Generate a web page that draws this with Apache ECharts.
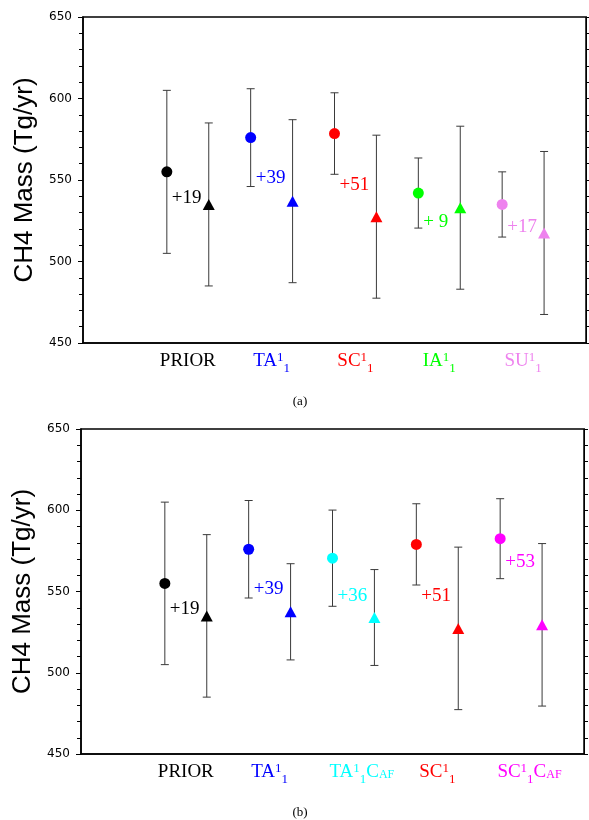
<!DOCTYPE html>
<html>
<head>
<meta charset="utf-8">
<script src="https://cdn.jsdelivr.net/npm/echarts@6/dist/echarts.min.js"></script>
<style>
html,body{margin:0;padding:0;background:#fff;}
#chart{width:589px;height:820px;}
</style>
</head>
<body>
<div id="chart"></div>
<script>
// ---------- Panel (a) data ----------
var labelsA = ['PRIOR', 'TA^1_1', 'SC^1_1', 'IA^1_1', 'SU^1_1'];
var colorsA = ['#000000', '#0000ff', '#ff0000', '#00ff00', '#ee82ee'];
var circleA = [555, 576, 578.5, 542, 535];
var circleErrA = [50, 30, 25, 21.5, 20];
var triangleA = [535, 537, 527.5, 533, 517.5];
var triangleErrA = [50, 50, 50, 50, 50];
var diffA = ['+19', '+39', '+51', '+ 9', '+17'];
var diffYA = [539, 551, 547, 524, 521];

// ---------- Panel (b) data ----------
var labelsB = ['PRIOR', 'TA^1_1', 'TA^1_1C_AF', 'SC^1_1', 'SC^1_1C_AF'];
var colorsB = ['#000000', '#0000ff', '#00ffff', '#ff0000', '#ff00ff'];
var circleB = [555, 576, 570.5, 579, 582.5];
var circleErrB = [50, 30, 29.6, 25, 24.6];
var triangleB = [535, 537.5, 534, 527.3, 529.5];
var triangleErrB = [50, 29.6, 29.5, 50, 50];
var diffB = ['+19', '+39', '+36', '+51', '+53'];
var diffYB = [539.5, 551.4, 547, 547.5, 568];

var yTicks = [450, 500, 550, 600, 650];

var SERIF = '"Liberation Serif", "Times New Roman", serif';

function labelX(i, markup) {
  // labels centred between the two markers; labels with C_AF suffix shift right a little
  return 2.5 + 2 * i + (markup.indexOf('C_AF') >= 0 ? 0.2 : 0);
}

function toRich(markup, i) {
  var out = '';
  var re = /\^(\d+)|_(\d+|[A-Za-z]+)|([^\^_]+)/g, m;
  while ((m = re.exec(markup)) !== null) {
    if (m[1]) out += '{u' + i + '|' + m[1] + '}';
    else if (m[2]) {
      if (/^\d+$/.test(m[2])) out += '{d' + i + '|' + m[2] + '}';
      else out += '{s' + i + '|' + m[2] + '}';
    } else out += '{n' + i + '|' + m[3] + '}';
  }
  return out;
}

function buildRich(colors) {
  var rich = {};
  colors.forEach(function (c, i) {
    rich['n' + i] = {color: c, fontSize: 19, fontFamily: SERIF, lineHeight: 30};
    rich['u' + i] = {color: c, fontSize: 13, fontFamily: SERIF, lineHeight: 30, padding: [0, 0, 7, 0]};
    rich['d' + i] = {color: c, fontSize: 13, fontFamily: SERIF, lineHeight: 30, padding: [15, 0, 0, 0]};
    rich['s' + i] = {color: c, fontSize: 12, fontFamily: SERIF, lineHeight: 30, padding: [5, 0, 0, 0]};
  });
  return rich;
}

function xAxisFor(gridIndex, labels, colors) {
  return {
    gridIndex: gridIndex, type: 'value', min: 0, max: 12, interval: 0.1,
    axisLine: {show: true, lineStyle: {color: '#000', width: 1.5}},
    axisTick: {show: false}, splitLine: {show: false},
    axisLabel: {
      margin: 3, lineHeight: 30,
      formatter: function (v) {
        var k = Math.round(v * 10);
        for (var i = 0; i < labels.length; i++) {
          if (Math.round(labelX(i, labels[i]) * 10) === k) return toRich(labels[i], i);
        }
        return '';
      },
      rich: buildRich(colors)
    }
  };
}

function yAxisFor(gridIndex, side) {
  var left = side === 'left';
  return {
    gridIndex: gridIndex, type: 'value', position: side,
    min: yTicks[0], max: yTicks[yTicks.length - 1], interval: yTicks[1] - yTicks[0],
    name: left ? 'CH4 Mass (Tg/yr)' : '', nameLocation: 'middle', nameGap: 45,
    nameTextStyle: {fontSize: 26, fontFamily: '"Liberation Sans", Arial, sans-serif', color: '#000'},
    axisLine: {show: true, lineStyle: {color: '#000', width: left ? 1.5 : 1}},
    axisTick: {show: true, inside: false, length: left ? 5 : 4, lineStyle: {color: '#000'}},
    minorTick: {show: true, splitNumber: 5, length: 4, lineStyle: {color: '#000'}},
    splitLine: {show: false}, minorSplitLine: {show: false},
    axisLabel: {show: left, margin: 11, fontSize: 12, fontFamily: '"DejaVu Sans", sans-serif', color: '#000'}
  };
}

function errorBarSeries(xi, yi, circ, circErr, tri, triErr) {
  var data = [];
  for (var i = 0; i < circ.length; i++) {
    data.push([2 + 2 * i, circ[i] - circErr[i], circ[i] + circErr[i]]);
    data.push([3 + 2 * i, tri[i] - triErr[i], tri[i] + triErr[i]]);
  }
  return {
    type: 'custom', xAxisIndex: xi, yAxisIndex: yi, data: data, silent: true,
    encode: {x: 0, y: [1, 2]},
    renderItem: function (params, api) {
      var x = api.value(0);
      var lo = api.coord([x, api.value(1)]);
      var hi = api.coord([x, api.value(2)]);
      var st = {stroke: '#3a3a3a', lineWidth: 1};
      return {type: 'group', children: [
        {type: 'line', shape: {x1: lo[0], y1: lo[1], x2: hi[0], y2: hi[1]}, style: st},
        {type: 'line', shape: {x1: hi[0] - 4, y1: hi[1], x2: hi[0] + 4, y2: hi[1]}, style: st},
        {type: 'line', shape: {x1: lo[0] - 4, y1: lo[1], x2: lo[0] + 4, y2: lo[1]}, style: st}
      ]};
    }
  };
}

function markerSeries(xi, yi, vals, colors, offset, symbol, size) {
  return {
    type: 'scatter', xAxisIndex: xi, yAxisIndex: yi, symbol: symbol, symbolSize: size,
    z: 5,
    data: vals.map(function (v, i) {
      return {value: [offset + 2 * i, v], itemStyle: {color: colors[i], opacity: 1}};
    })
  };
}

function diffSeries(xi, yi, texts, ys, colors) {
  return {
    type: 'custom', xAxisIndex: xi, yAxisIndex: yi, silent: true, z: 6,
    data: ys.map(function (y, i) { return [2.12 + 2 * i, y]; }),
    renderItem: function (params, api) {
      var p = api.coord([api.value(0), api.value(1)]);
      return {type: 'text', x: p[0], y: p[1], style: {
        text: texts[params.dataIndex], fill: colors[params.dataIndex],
        fontSize: 19, fontFamily: SERIF, align: 'left', verticalAlign: 'middle'
      }};
    }
  };
}

var chart = echarts.init(document.getElementById('chart'));
chart.setOption({
  animation: false,
  backgroundColor: '#fff',
  grid: [
    {left: 83, top: 17, width: 503, height: 326, show: true, borderColor: '#000', borderWidth: 1.5, backgroundColor: 'transparent'},
    {left: 81, top: 429, width: 503, height: 325, show: true, borderColor: '#000', borderWidth: 1.5, backgroundColor: 'transparent'}
  ],
  xAxis: [xAxisFor(0, labelsA, colorsA), xAxisFor(1, labelsB, colorsB)],
  yAxis: [yAxisFor(0, 'left'), yAxisFor(0, 'right'), yAxisFor(1, 'left'), yAxisFor(1, 'right')],
  graphic: [
    {type: 'text', x: 300, y: 402, style: {text: '(a)', fontSize: 13, fontFamily: SERIF, fill: '#000', align: 'center', verticalAlign: 'middle'}},
    {type: 'text', x: 300, y: 813, style: {text: '(b)', fontSize: 13, fontFamily: SERIF, fill: '#000', align: 'center', verticalAlign: 'middle'}}
  ],
  series: [
    errorBarSeries(0, 0, circleA, circleErrA, triangleA, triangleErrA),
    markerSeries(0, 0, circleA, colorsA, 2, 'circle', 11),
    markerSeries(0, 0, triangleA, colorsA, 3, 'triangle', [12, 11]),
    diffSeries(0, 0, diffA, diffYA, colorsA),
    errorBarSeries(1, 2, circleB, circleErrB, triangleB, triangleErrB),
    markerSeries(1, 2, circleB, colorsB, 2, 'circle', 11),
    markerSeries(1, 2, triangleB, colorsB, 3, 'triangle', [12, 11]),
    diffSeries(1, 2, diffB, diffYB, colorsB)
  ]
});
</script>
</body>
</html>
